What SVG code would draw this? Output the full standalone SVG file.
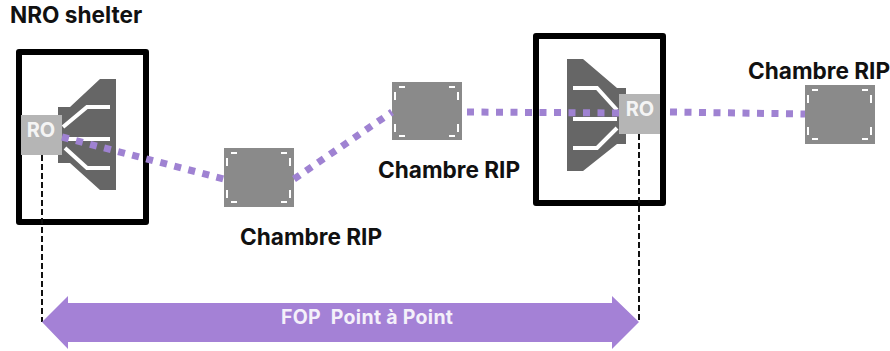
<svg xmlns="http://www.w3.org/2000/svg" width="890" height="351" viewBox="0 0 890 351">
<style>
text{font-family:Inter,"Liberation Sans",sans-serif;font-weight:700}
.lbl{font-size:22.6px;fill:#111}
.ro{font-size:20px;fill:#f4f4f4;text-anchor:middle}
.box{fill:#fff;stroke:#000;stroke-width:6;stroke-linejoin:round}
.sp{fill:#666}
.rect{fill:#b5b5b5}
.w{fill:none;stroke:#fff;stroke-width:4}
.ch{fill:#8a8a8a}
.t{fill:none;stroke:#fff;stroke-width:2}
.dot{fill:none;stroke:#9f82d2;stroke-width:7;stroke-dasharray:7 7.500}
.drop{fill:none;stroke:#111;stroke-width:2;stroke-dasharray:6 3}
</style>
<defs>
<g id="corners">
<path class="t" d="M7 5h6M57 5h6M3 10v8M66 10v8M3 42v8M66 42v8M7 54h6M57 54h6"/>
</g>
</defs>
<g id="nro-shelter">
<rect class="box" x="19" y="52" width="127" height="170"/>
<path class="sp" d="M58 107H70L100 79H116V190H100L70 163H58Z"/>
<path class="w" d="M63 127L87 107H110M63 139H110M65 148L87 168H110"/>
<rect class="rect" x="21" y="115" width="41" height="40"/>
<text class="ro" x="41" y="137">RO</text>
<text class="lbl" x="10" y="23">NRO shelter</text>
</g>
<g id="ro-right">
<rect class="box" x="536" y="36" width="127" height="167"/>
<path class="sp" d="M567 59H583L617 88H626V144H617L583 171H567Z"/>
<path class="w" d="M573 88H597L617 110M573 119H617M573 148H597L617 128"/>
<rect class="rect" x="619" y="94" width="41" height="40"/>
<text class="ro" x="640" y="116">RO</text>
</g>
<g id="chambre-1">
<rect class="ch" x="224" y="148" width="70" height="59"/>
<use href="#corners" x="224" y="148"/>
<text class="lbl" x="240" y="245">Chambre RIP</text>
</g>
<g id="chambre-2">
<rect class="ch" x="392" y="82" width="70" height="58"/>
<use href="#corners" x="392" y="82"/>
<text class="lbl" x="378" y="178">Chambre RIP</text>
</g>
<g id="chambre-3">
<rect class="ch" x="805" y="85" width="70" height="59"/>
<use href="#corners" x="805" y="85"/>
<text class="lbl" x="748" y="79">Chambre RIP</text>
</g>
<g id="connectors">
<path class="dot" d="M62 137L224 179"/>
<path class="dot" d="M294 179L392 112"/>
<path class="dot" d="M467 112L619 113"/>
<path class="dot" d="M670 112L805 114"/>
<path class="drop" d="M42 155V322"/>
<path class="drop" d="M639 134V320"/>
</g>
<g id="fop">
<path d="M42 322L68 296V303H612V296L639 322L612 349V342H68V349Z" fill="#a481d6"/>
<text x="281" y="324" font-size="19.500" letter-spacing="0.3" fill="#f4f0fa" style="white-space:pre">FOP  Point à Point</text>
</g>
</svg>
